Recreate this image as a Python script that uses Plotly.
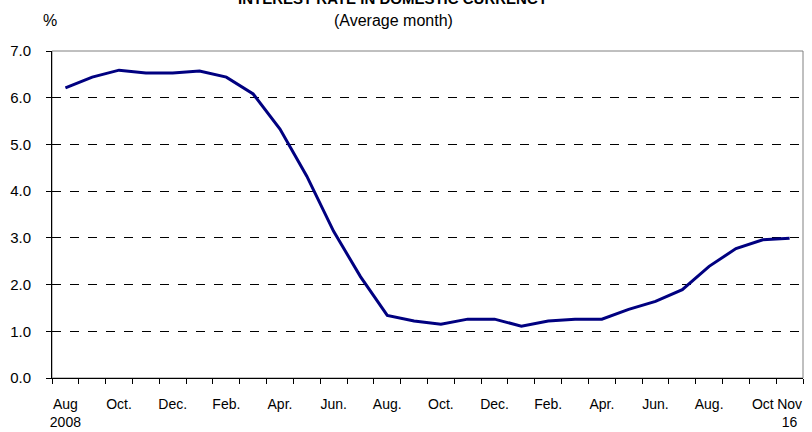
import plotly.graph_objects as go

# Monthly categories Aug 2008 .. Nov 2010
months = [
    "2008-08", "2008-09", "2008-10", "2008-11", "2008-12",
    "2009-01", "2009-02", "2009-03", "2009-04", "2009-05", "2009-06",
    "2009-07", "2009-08", "2009-09", "2009-10", "2009-11", "2009-12",
    "2010-01", "2010-02", "2010-03", "2010-04", "2010-05", "2010-06",
    "2010-07", "2010-08", "2010-09", "2010-10", "2010-11",
]

# Interest rate in domestic currency (%), average month
rates = [
    6.21, 6.44, 6.59, 6.53, 6.53, 6.57, 6.44, 6.08, 5.33, 4.32, 3.14,
    2.17, 1.34, 1.22, 1.15, 1.26, 1.26, 1.11, 1.22, 1.26, 1.26, 1.47,
    1.64, 1.89, 2.39, 2.77, 2.96, 2.99,
]

tick_labels = [
    "Aug<br>2008", "", "Oct.", "", "Dec.", "", "Feb.", "", "Apr.", "",
    "Jun.", "", "Aug.", "", "Oct.", "", "Dec.", "", "Feb.", "", "Apr.", "",
    "Jun.", "", "Aug.", "", "Oct", "Nov<br>16",
]

y_ticks = [0, 1, 2, 3, 4, 5, 6, 7]

FONT = "Arial, Liberation Sans, sans-serif"

fig = go.Figure()
fig.add_trace(go.Scatter(
    x=months, y=rates, mode="lines",
    line=dict(color="#000080", width=3),
    hoverinfo="skip", showlegend=False,
))

L, R, T, B = 52, 9, 51, 54
W, H = 812, 432
ph = H - T - B
pw = W - L - R

fig.update_layout(
    width=W, height=H,
    margin=dict(l=L, r=R, t=T, b=B),
    paper_bgcolor="white", plot_bgcolor="white",
    font=dict(family=FONT, size=15, color="black"),
    showlegend=False,
    shapes=[dict(type="rect", xref="paper", yref="paper", x0=0, x1=1, y0=0, y1=1,
                 line=dict(color="#808080", width=1), layer="below")],
    annotations=[
        dict(text="<b>INTEREST RATE IN DOMESTIC CURRENCY</b>", xref="paper", yref="paper",
             x=(393 - L) / pw, y=(H - B - 9) / ph, xanchor="center", yanchor="bottom",
             showarrow=False, font=dict(family=FONT, size=15, color="black")),
        dict(text="(Average month)", xref="paper", yref="paper",
             x=(393 - L) / pw, y=(H - B - 31) / ph, xanchor="center", yanchor="bottom",
             showarrow=False, font=dict(family=FONT, size=16, color="black")),
        dict(text="%", xref="paper", yref="paper",
             x=(50 - L) / pw, y=(H - B - 31) / ph, xanchor="center", yanchor="bottom",
             showarrow=False, font=dict(family=FONT, size=16, color="black")),
    ],
)

fig.update_xaxes(
    type="category",
    categoryorder="array", categoryarray=months,
    tickmode="array", tickvals=months, ticktext=tick_labels,
    tickson="boundaries",
    ticks="outside", ticklen=5, tickcolor="black", tickwidth=1,
    showline=True, linecolor="black", linewidth=1,
    showgrid=False, zeroline=False,
    tickangle=0,
    automargin=False,
    ticklabelstandoff=13,
    tickfont=dict(family=FONT, size=14, color="black"),
    range=[-0.5, len(months) - 0.5],
)

fig.update_yaxes(
    range=[0, 7], tickmode="array", tickvals=y_ticks, tickformat=".1f",
    ticks="outside", ticklen=5, tickcolor="black", tickwidth=1,
    showline=True, linecolor="black", linewidth=1,
    showgrid=True, gridcolor="black", gridwidth=1, griddash="dash",
    zeroline=False,
    automargin=False,
    ticklabelstandoff=12,
    tickfont=dict(family=FONT, size=15, color="black"),
)

fig.write_html("out.html")
